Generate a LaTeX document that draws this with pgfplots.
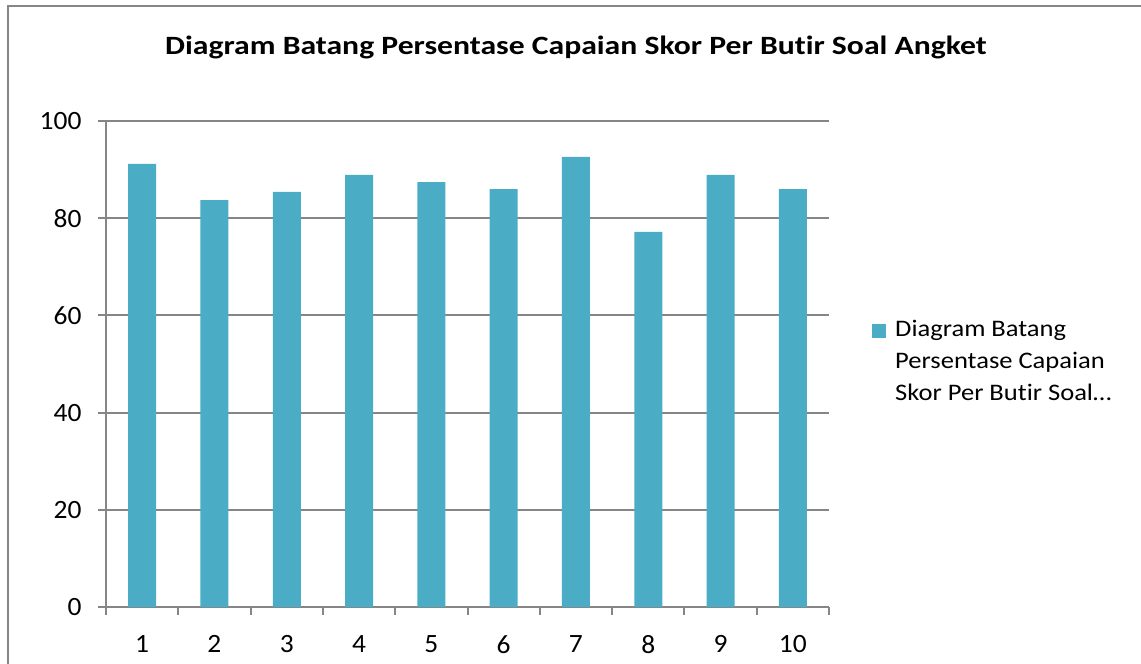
\documentclass[border=0pt]{standalone}
\usepackage{pgfplots}
\pgfplotsset{compat=1.18}
\usepackage{fontspec}
\setmainfont{Carlito}[Ligatures=NoCommon]
\newfontfamily\titlefont{Carlito}[FakeStretch=1.2, Ligatures=NoCommon]
\newfontfamily\legfont{Carlito}[FakeStretch=1.12, Ligatures=NoCommon]
\newfontfamily\tickfont{Carlito}[FakeStretch=1.04, Ligatures=NoCommon]
\definecolor{barc}{RGB}{75,172,198}
\definecolor{axc}{RGB}{134,134,134}
\begin{document}
\begin{tikzpicture}[x=1pt,y=1pt]
\path[use as bounding box] (0,0) rectangle (1141,664);
\draw[axc,line width=2pt] (8,0) -- (8,658) -- (1141,658);
\node[font=\titlefont\fontsize{26.4}{32}\selectfont\bfseries] at (576,617) {Diagram Batang Persentase Capaian Skor Per Butir Soal Angket};
\begin{axis}[
  at={(106pt,57pt)}, anchor=south west,
  scale only axis, width=723pt, height=486pt,
  xmin=0.5, xmax=10.5, ymin=0, ymax=100,
  ytick={0,20,...,100},
  xtick={1,...,10},
  minor xtick={0.5,1.5,...,10.5},
  major x tick style={draw=none},
  tick align=outside,
  major tick length=8pt, minor tick length=8pt,
  axis x line*=bottom, axis y line*=left,
  axis line style={axc, line width=2pt},
  every tick/.style={axc, line width=2pt},
  ymajorgrids, grid style={axc, line width=2pt},
  tick label style={font=\tickfont\fontsize{26.4}{30}\selectfont, text=black},
  yticklabel style={xshift=-13pt},
  xticklabel style={yshift=-17pt},
  /pgf/number format/assume math mode=true,
  ybar, bar width=28pt,
  legend style={draw=none, fill=none, at={(1,0.5)}, anchor=west, xshift=43pt, yshift=38pt,
    inner sep=0pt, font=\legfont\fontsize{23.7}{32}\selectfont,
    nodes={inner sep=0pt},
    /tikz/every odd column/.style={column sep=9pt}},
  legend image code/.code={\fill[barc] (0pt,-12pt) rectangle (14pt,2pt);},
]
\addplot[fill=barc, draw=none] coordinates {(1,91.2) (2,83.7) (3,85.4) (4,88.9) (5,87.4) (6,86.0) (7,92.6) (8,77.2) (9,88.9) (10,86.0)};
\addlegendentry{\begin{tabular}[t]{@{}l@{}}Diagram Batang\\Persentase Capaian\\Skor Per Butir Soal…\end{tabular}}
\end{axis}
\end{tikzpicture}
\end{document}
